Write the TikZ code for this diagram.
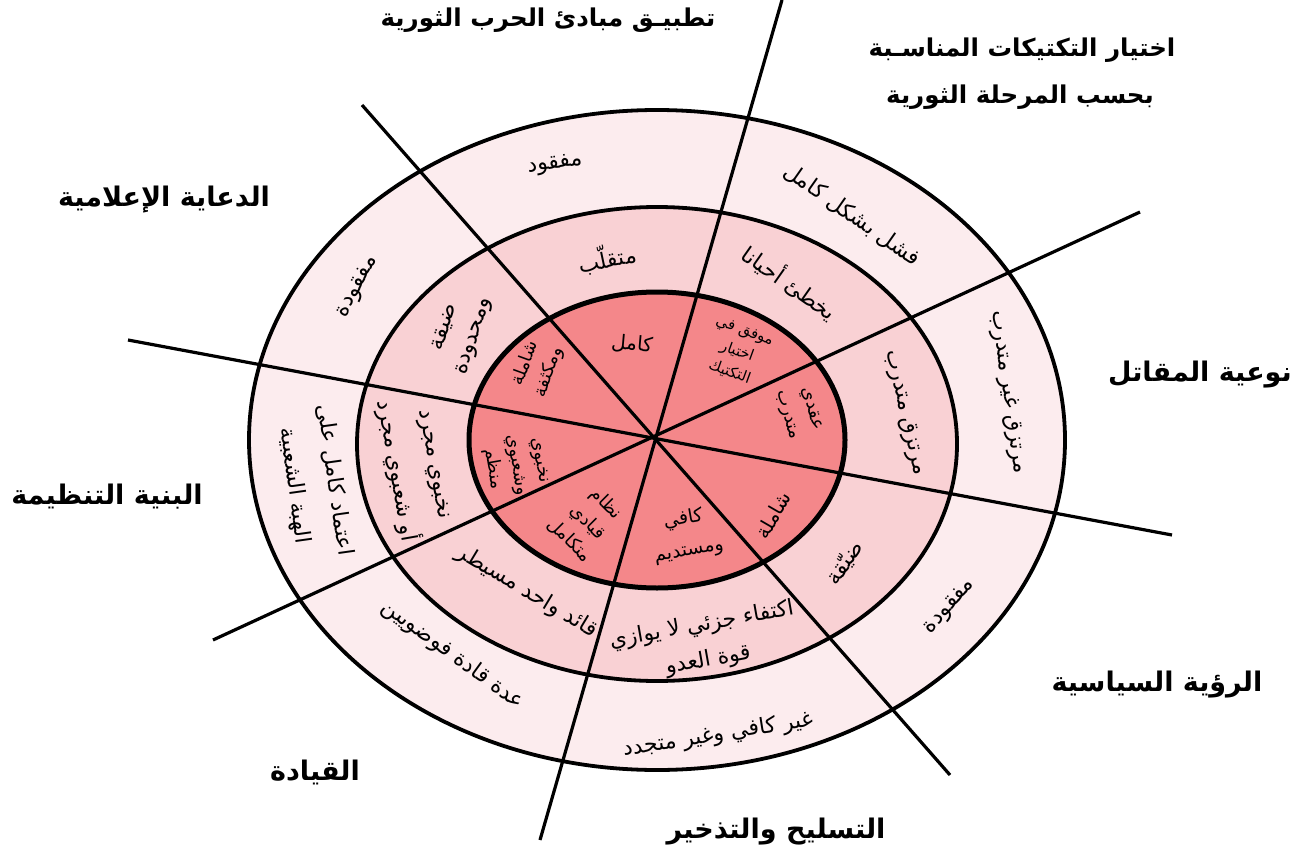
\documentclass[tikz,border=0pt]{standalone}
\usepackage{fontspec}
\newfontfamily\arabicfont[Script=Arabic]{DejaVu Sans}
\TeXXeTstate=1
\newcommand{\ar}[1]{\beginR #1\endR}
\definecolor{ringout}{HTML}{FCECEE}
\definecolor{ringmid}{HTML}{F9D1D4}
\definecolor{ringin}{HTML}{F4878A}
\begin{document}
\begin{tikzpicture}[x=1pt,y=-1pt,
  lab/.style={font=\arabicfont\bfseries\fontsize{27}{32}\selectfont, inner sep=0pt},
  labsm/.style={font=\arabicfont\bfseries\fontsize{24.5}{30}\selectfont, inner sep=0pt},
  rt/.style={font=\arabicfont\fontsize{22}{40}\selectfont, align=center, inner sep=0pt},
  rtin/.style={font=\arabicfont\fontsize{20}{28}\selectfont, align=center, inner sep=0pt},
  rtsm/.style={font=\arabicfont\fontsize{15}{22}\selectfont, align=center, inner sep=0pt},
  sepline/.style={line width=3.2pt},
  ringline/.style={line width=3.8pt}]
\useasboundingbox (0,0) rectangle (1309,856);
\coordinate (c) at (657,440);
\coordinate (cm) at (657,444);
\fill[ringout] (c) ellipse [x radius=408pt, y radius=330pt];
\fill[ringmid] (cm) ellipse [x radius=300pt, y radius=237pt];
\fill[ringin] (c) ellipse [x radius=188pt, y radius=148pt];
\coordinate (a1) at (362,105); \coordinate (a2) at (950,775);
\coordinate (b1) at (782,0);   \coordinate (b2) at (540,840);
\coordinate (d1) at (1140,212); \coordinate (d2) at (213,640);
\coordinate (e1) at (128,340); \coordinate (e2) at (1172,535);
\draw[sepline] (a1) -- (a2);
\draw[sepline] (b1) -- (b2);
\draw[sepline] (d1) -- (d2);
\draw[sepline] (e1) -- (e2);
\draw[ringline] (c) ellipse [x radius=408pt, y radius=330pt];
\draw[ringline] (cm) ellipse [x radius=300pt, y radius=237pt];
\draw[line width=5pt] (c) ellipse [x radius=188pt, y radius=148pt];
% outer labels
\node[labsm] (t1) at (548,20) {\ar{تطبيـق مبادئ الحرب الثورية}};
\node[labsm] (t2a) at (1022,50) {\ar{اختيار التكتيكات المناسـبة}};
\node[labsm] (t2b) at (1020,97) {\ar{بحسب المرحلة الثورية}};
\node[lab] (t3) at (164,200) {\ar{الدعاية الإعلامية}};
\node[lab] (t4) at (1200,375) {\ar{نوعية المقاتل}};
\node[lab] (t5) at (107,497) {\ar{البنية التنظيمة}};
\node[lab] (t6) at (1157,685) {\ar{الرؤية السياسية}};
\node[lab] (t7) at (315,772) {\ar{القيادة}};
\node[lab] (t8) at (776,832) {\ar{التسليح والتذخير}};
% outer ring
\node[rt, rotate=8] (o1) at (555,165) {\ar{مفقود}};
\node[rt, rotate=-35] (o2) at (852,215) {\ar{فشل بشكل كامل}};
\node[rt, rotate=-82] (o3) at (1008,392) {\ar{مرتزق غير متدرب}};
\node[rt, rotate=49] (o4) at (950,607) {\ar{مفقودة}};
\node[rt, rotate=9] (o5) at (718,735) {\ar{غير كافي وغير متجدد}};
\node[rt, rotate=-36] (o6) at (453,655) {\ar{عدة قادة فوضويين}};
\node[rt, rotate=-82] (o7) at (314,483) {\ar{اعتماد كامل على}\\\ar{الهبة الشعبية}};
\node[rt, rotate=62] (o8) at (358,287) {\ar{مفقودة}};
% middle ring
\node[rt, rotate=12] (m1) at (607,258) {\ar{متقلّب}};
\node[rt, rotate=-35] (m2) at (790,282) {\ar{يخطئ أحيانا}};
\node[rt, rotate=-77] (m3) at (905,413) {\ar{مرتزق متدرب}};
\node[rt, rotate=55] (m4) at (845,563) {\ar{ضيّقة}};
\node[rt, rotate=10, font=\arabicfont\fontsize{22}{36}\selectfont] (m5) at (705,643) {\ar{اكتفاء جزئي لا يوازي}\\\ar{قوة العدو}};
\node[rt, rotate=-31] (m6) at (527,592) {\ar{قائد واحد مسيطر}};
\node[rt, rotate=-80] (m7) at (413,468) {\ar{نخبوي مجرد}\\\ar{أو شعبوي مجرد}};
\node[rt, rotate=72, font=\arabicfont\fontsize{22}{30}\selectfont] (m8) at (460,332) {\ar{ضيقة}\\\ar{ومحدودة}};
% inner ring
\node[rtin, rotate=-5] (i1) at (632,344) {\ar{كامل}};
\node[rtsm, rotate=-20] (i2) at (737,352) {\ar{موفق في}\\\ar{اختيار}\\\ar{التكتيك}};
\node[rtin, rotate=-75, font=\arabicfont\fontsize{18}{25}\selectfont] (i3) at (799,412) {\ar{عقدي}\\\ar{متدرب}};
\node[rtin, rotate=60] (i4) at (773,515) {\ar{شاملة}};
\node[rtin, rotate=10, font=\arabicfont\fontsize{19}{32}\selectfont] (i5) at (686,535) {\ar{كافي}\\\ar{ومستديم}};
\node[rtin, rotate=-45, font=\arabicfont\fontsize{18}{26}\selectfont] (i6) at (588,522) {\ar{نظام}\\\ar{قيادي}\\\ar{متكامل}};
\node[rtin, rotate=-80, font=\arabicfont\fontsize{18}{24}\selectfont] (i7) at (515,465) {\ar{نخبوي}\\\ar{وشعبوي}\\\ar{منظم}};
\node[rtin, rotate=70, font=\arabicfont\fontsize{18}{25}\selectfont] (i8) at (537,368) {\ar{شاملة}\\\ar{ومكثفة}};
\end{tikzpicture}
\end{document}
